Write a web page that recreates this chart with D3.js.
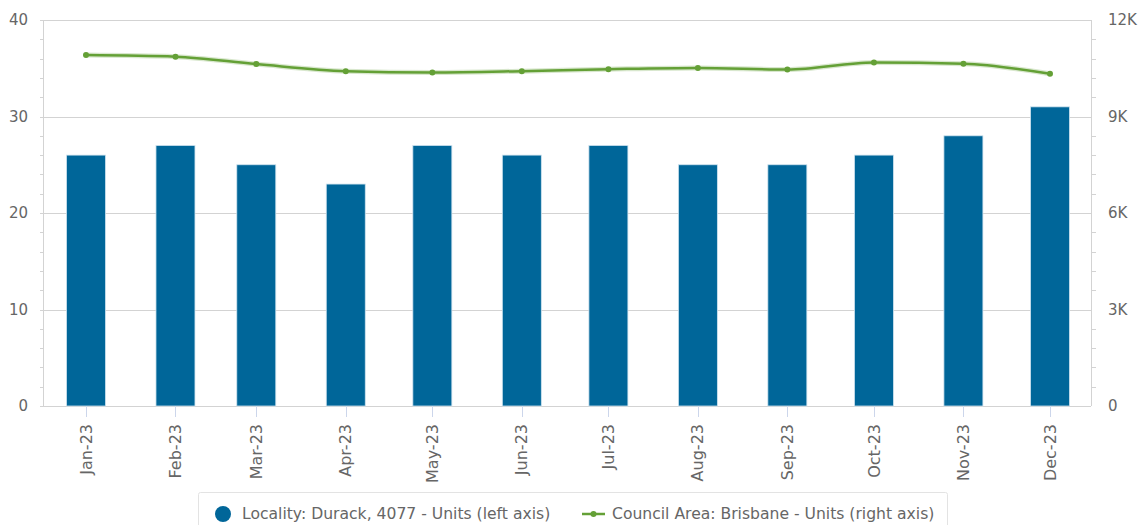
<!DOCTYPE html>
<html>
<head>
<meta charset="utf-8">
<title>Durack units</title>
<script src="https://cdn.jsdelivr.net/npm/d3@7"></script>
<style>
  body { margin: 0; background: #fff; }
  svg { font-family: "DejaVu Sans", Verdana, sans-serif; }
</style>
</head>
<body>
<svg width="1139" height="525"></svg>
<script>

// data
var months = ["2023-01-01", "2023-02-01", "2023-03-01", "2023-04-01", "2023-05-01", "2023-06-01",
              "2023-07-01", "2023-08-01", "2023-09-01", "2023-10-01", "2023-11-01", "2023-12-01"];
var localityUnits = [26, 27, 25, 23, 27, 26, 27, 25, 25, 26, 28, 31];
var councilUnits = [10910, 10860, 10630, 10410, 10370, 10410, 10470, 10510, 10460, 10680, 10640, 10330];
var leftTicks = [0, 10, 20, 30, 40];
var rightTicks = [0, 3000, 6000, 9000, 12000];
var legendLabels = ["Locality: Durack, 4077 - Units (left axis)", "Council Area: Brisbane - Units (right axis)"];

var parse = d3.timeParse("%Y-%m-%d");
var dates = months.map(parse);

var svg = d3.select("svg"),
    plot = {left: 43, right: 1091, top: 20, bottom: 406};

var x = d3.scaleTime()
    .domain([dates[0], dates[dates.length - 1]])
    .range([86, 1050]);

var yL = d3.scaleLinear().domain([0, 40]).range([plot.bottom, plot.top]);
var yR = d3.scaleLinear().domain([0, 12000]).range([plot.bottom, plot.top]);

var barColor = "#006699",
    lineColor = "#64a036",
    gridColor = "#d3d3d3",
    textColor = "#666666";

// gridlines
svg.append("g").selectAll("line")
    .data(leftTicks)
  .enter().append("line")
    .attr("x1", plot.left - 3).attr("x2", plot.right)
    .attr("y1", function(d) { return Math.round(yL(d)) + 0.5; })
    .attr("y2", function(d) { return Math.round(yL(d)) + 0.5; })
    .attr("stroke", gridColor);

// minor ticks, left and right
var leftMinor = d3.range(0, 40, 2).filter(function(d) { return d % 10; });
svg.append("g").selectAll("line")
    .data(leftMinor)
  .enter().append("line")
    .attr("x1", plot.left - 3).attr("x2", plot.left)
    .attr("y1", function(d) { return Math.round(yL(d)) + 0.5; })
    .attr("y2", function(d) { return Math.round(yL(d)) + 0.5; })
    .attr("stroke", gridColor);

var rightMinor = d3.range(0, 12000, 600).filter(function(d) { return d % 3000; });
svg.append("g").selectAll("line")
    .data(rightMinor)
  .enter().append("line")
    .attr("x1", plot.right).attr("x2", plot.right + 5)
    .attr("y1", function(d) { return Math.round(yR(d)) + 0.5; })
    .attr("y2", function(d) { return Math.round(yR(d)) + 0.5; })
    .attr("stroke", gridColor);

// axis lines
svg.append("line")
    .attr("x1", plot.left + 0.5).attr("x2", plot.left + 0.5)
    .attr("y1", plot.top).attr("y2", plot.bottom)
    .attr("stroke", gridColor);
svg.append("line")
    .attr("x1", plot.right + 0.5).attr("x2", plot.right + 0.5)
    .attr("y1", plot.top).attr("y2", plot.bottom)
    .attr("stroke", gridColor);

// axis labels
svg.append("g").selectAll("text")
    .data(leftTicks)
  .enter().append("text")
    .attr("x", 28)
    .attr("y", function(d) { return yL(d); })
    .attr("dy", "0.35em")
    .attr("text-anchor", "end")
    .attr("fill", textColor)
    .style("font-size", "15px")
    .text(function(d) { return d; });

svg.append("g").selectAll("text")
    .data(rightTicks)
  .enter().append("text")
    .attr("x", 1108)
    .attr("y", function(d) { return yR(d); })
    .attr("dy", "0.35em")
    .attr("fill", textColor)
    .style("font-size", "15px")
    .text(function(d) { return d ? (d / 1000) + "K" : "0"; });

// x ticks
var fmt = d3.timeFormat("%b-%y");
svg.append("g").selectAll("line")
    .data(dates)
  .enter().append("line")
    .attr("x1", function(d) { return Math.round(x(d)) + 0.5; })
    .attr("x2", function(d) { return Math.round(x(d)) + 0.5; })
    .attr("y1", plot.bottom).attr("y2", plot.bottom + 11)
    .attr("stroke", "#ccd6eb");

svg.append("g").selectAll("text")
    .data(dates)
  .enter().append("text")
    .attr("transform", function(d) { return "translate(" + x(d) + "," + 424 + ") rotate(-90)"; })
    .attr("dy", "0.35em")
    .attr("text-anchor", "end")
    .attr("fill", textColor)
    .style("font-size", "16px")
    .text(fmt);

// bars
var barW = 39;
svg.append("g").selectAll("rect")
    .data(localityUnits)
  .enter().append("rect")
    .attr("x", function(d, i) { return x(dates[i]) - barW / 2; })
    .attr("y", function(d) { return yL(d); })
    .attr("width", barW)
    .attr("height", function(d) { return yL(0) - yL(d); })
    .attr("fill", barColor)
    .attr("stroke", "#cfe3ef")
    .attr("stroke-width", 0.8);

// line
var line = d3.line()
    .x(function(d, i) { return x(dates[i]); })
    .y(function(d) { return yR(d); })
    .curve(d3.curveMonotoneX);

svg.append("path")
    .datum(councilUnits)
    .attr("d", line)
    .attr("fill", "none")
    .attr("stroke", lineColor)
    .attr("stroke-opacity", 0.25)
    .attr("stroke-width", 5);

svg.append("path")
    .datum(councilUnits)
    .attr("d", line)
    .attr("fill", "none")
    .attr("stroke", lineColor)
    .attr("stroke-width", 2.5);

svg.append("g").selectAll("circle")
    .data(councilUnits)
  .enter().append("circle")
    .attr("cx", function(d, i) { return x(dates[i]); })
    .attr("cy", function(d) { return yR(d); })
    .attr("r", 3)
    .attr("fill", lineColor);

// legend
var legend = svg.append("g");
legend.append("rect")
    .attr("x", 198.5).attr("y", 492.5)
    .attr("width", 749).attr("height", 45)
    .attr("rx", 2)
    .attr("fill", "#fff")
    .attr("stroke", "#e3e3e3");

legend.append("circle")
    .attr("cx", 223).attr("cy", 514)
    .attr("r", 8)
    .attr("fill", barColor);
legend.append("text")
    .attr("x", 242).attr("y", 514)
    .attr("dy", "0.35em")
    .attr("fill", textColor)
    .style("font-size", "15.6px")
    .text(legendLabels[0]);

legend.append("line")
    .attr("x1", 582).attr("x2", 605)
    .attr("y1", 514).attr("y2", 514)
    .attr("stroke", lineColor)
    .attr("stroke-width", 2.5);
legend.append("circle")
    .attr("cx", 593.5).attr("cy", 514)
    .attr("r", 3)
    .attr("fill", lineColor);
legend.append("text")
    .attr("x", 612).attr("y", 514)
    .attr("dy", "0.35em")
    .attr("fill", textColor)
    .style("font-size", "15.6px")
    .text(legendLabels[1]);

</script>
</body>
</html>
